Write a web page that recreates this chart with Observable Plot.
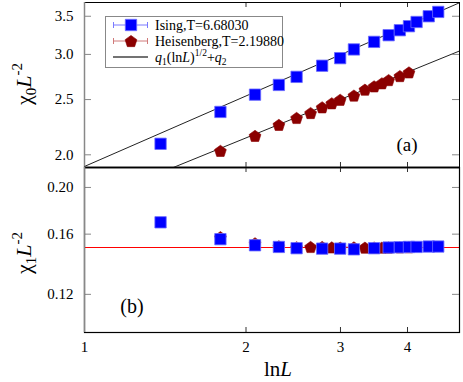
<!DOCTYPE html>
<html>
<head>
<meta charset="utf-8">
<script src="https://cdn.jsdelivr.net/npm/d3@7"></script>
<script src="https://cdn.jsdelivr.net/npm/@observablehq/plot@0.6"></script>
<style>
  body { margin: 0; background: #fff; }
  #wrap { position: relative; width: 463px; height: 382px; font-family: "Liberation Serif", "Times New Roman", Times, serif; }
  #wrap > * { position: absolute; left: 0; }
  #wrap text { font-family: "Liberation Serif", "Times New Roman", Times, serif; }
</style>
</head>
<body>
<div id="wrap"></div>
<script>
// ---- data ----
const lnL_ising  = [1.386, 1.792, 2.079, 2.303, 2.485, 2.773, 2.996, 3.178, 3.466, 3.689, 3.871, 4.025, 4.159, 4.382, 4.564];
const chi0_ising = [2.091, 2.378, 2.550, 2.652, 2.740, 2.866, 2.955, 3.061, 3.156, 3.242, 3.308, 3.362, 3.420, 3.500, 3.562];
const chi1_ising = [0.1693, 0.1562, 0.1517, 0.1505, 0.1496, 0.1493, 0.1493, 0.1488, 0.1496, 0.1501, 0.1503, 0.1505, 0.1505, 0.1508, 0.1508];

const lnL_heis  = [1.792, 2.079, 2.303, 2.485, 2.639, 2.773, 2.890, 2.996, 3.178, 3.332, 3.466, 3.584, 3.689, 3.871, 4.025];
const chi0_heis = [2.032, 2.159, 2.257, 2.321, 2.368, 2.423, 2.463, 2.498, 2.541, 2.602, 2.637, 2.670, 2.705, 2.749, 2.790];
const chi1_heis = [0.1577, 0.1532, 0.1510, 0.1503, 0.1505, 0.1505, 0.1502, 0.1500, 0.1502, 0.1500, 0.1501, 0.1500, 0.1501, 0.1502, 0.1503];

// fit lines q1 (lnL)^1/2 + q2 (endpoints)
const fitIsing_x = [1.0, 5.0];
const fitIsing_y = [1.908, 3.696];
const fitHeis_x  = [1.464, 5.0];
const fitHeis_y  = [1.900, 3.042];

const chi1_ref = [0.150];

const xTickLabels = [1, 2, 3, 4];
const xTicksInner = [2, 3, 4];
const yTicksTop = [2.0, 2.5, 3.0, 3.5];
const yTicksBottom = [0.12, 0.16, 0.20];

const labelIsing = "Ising,T=6.68030";
const labelHeis = "Heisenberg,T=2.19880";

// ---- helpers ----
const zip = (xs, ys) => xs.map((x, i) => ({x, y: ys[i]}));
const pentagon = {
  draw(context, size) {
    const R = Math.sqrt(size / 2.3776);
    for (let i = 0; i < 5; i++) {
      const a = -Math.PI / 2 + i * 2 * Math.PI / 5;
      const px = R * Math.cos(a), py = R * Math.sin(a) + R * 0.1;
      if (i === 0) context.moveTo(px, py); else context.lineTo(px, py);
    }
    context.closePath();
  }
};

const SERIF = '"Liberation Serif", "Times New Roman", Times, serif';
const W = 463, ML = 84, MR = 4;
const plotW = W - ML - MR;
const BLUE = "#0000ff", DRED = "#8b0000";
const font = {fontFamily: SERIF, fontSize: "15px", background: "transparent", color: "#000", overflow: "visible"};

// ---- top panel ----
const topH = 168, topMT = 2, topMB = 1;
const topPH = topH - topMT - topMB;
const chartTop = Plot.plot({
  width: W, height: topH, marginLeft: ML, marginRight: MR, marginTop: topMT, marginBottom: topMB,
  style: font,
  x: {type: "log", domain: [1, 5], axis: null},
  y: {type: "log", domain: [1.9, 3.7]},
  marks: [
    Plot.line(zip(fitIsing_x, fitIsing_y), {x: "x", y: "y", stroke: "#222", strokeWidth: 1, clip: true}),
    Plot.line(zip(fitHeis_x, fitHeis_y), {x: "x", y: "y", stroke: "#222", strokeWidth: 1, clip: true}),
    Plot.dot(zip(lnL_heis, chi0_heis), {x: "x", y: "y", symbol: pentagon, r: 5.4, fill: DRED, stroke: DRED, strokeWidth: 0.6}),
    Plot.dot(zip(lnL_ising, chi0_ising), {x: "x", y: "y", symbol: "square", r: 6.4, fill: BLUE, stroke: "#6a6aff", strokeWidth: 0.8}),
    Plot.tickY(yTicksTop, {y: d => d, insetRight: plotW - 7, stroke: "#888"}),
    Plot.tickY(yTicksTop, {y: d => d, insetLeft: plotW - 7, stroke: "#888"}),
    Plot.tickX(xTicksInner, {x: d => d, insetTop: topPH - 5, stroke: "#333"}),
    Plot.tickX(xTicksInner, {x: d => d, insetBottom: topPH - 5, stroke: "#333"}),
    Plot.axisY(yTicksTop, {anchor: "left", tickSize: 0, tickPadding: 11, tickFormat: d3.format(".1f"), label: null, fontSize: 15, fill: "#000"}),
    Plot.frame({stroke: "#000", strokeWidth: 1}),
    Plot.ruleX([1], {stroke: "#888", strokeWidth: 1.5}),
    Plot.ruleY([1.9], {stroke: "#333", strokeWidth: 2})
  ]
});
chartTop.style.top = "0px";

// ---- bottom panel ----
const botTop = 166, botH = 216, botMT = 1, botMB = 50;
const botPH = botH - botMT - botMB;
const chartBot = Plot.plot({
  width: W, height: botH, marginLeft: ML, marginRight: MR, marginTop: botMT, marginBottom: botMB,
  style: font,
  x: {type: "log", domain: [1, 5]},
  y: {type: "log", domain: [0.1, 0.22]},
  marks: [
    Plot.ruleY(chi1_ref, {stroke: "#ff0000", strokeWidth: 1, shapeRendering: "crispEdges"}),
    Plot.dot(zip(lnL_heis, chi1_heis), {x: "x", y: "y", symbol: pentagon, r: 5.4, fill: DRED, stroke: DRED, strokeWidth: 0.6}),
    Plot.dot(zip(lnL_ising, chi1_ising), {x: "x", y: "y", symbol: "square", r: 6.4, fill: BLUE, stroke: "#6a6aff", strokeWidth: 0.8}),
    Plot.tickY(yTicksBottom, {y: d => d, insetRight: plotW - 7, stroke: "#888"}),
    Plot.tickY(yTicksBottom, {y: d => d, insetLeft: plotW - 7, stroke: "#888"}),
    Plot.tickX(xTicksInner, {x: d => d, insetTop: botPH - 5, stroke: "#333"}),
    Plot.tickX(xTicksInner, {x: d => d, insetBottom: botPH - 5, stroke: "#333"}),
    Plot.axisY(yTicksBottom, {anchor: "left", tickSize: 0, tickPadding: 11, tickFormat: d3.format(".2f"), label: null, fontSize: 15, fill: "#000"}),
    Plot.axisX(xTickLabels, {anchor: "bottom", tickSize: 0, tickPadding: 9, tickFormat: d => String(d), label: null, fontSize: 15, fill: "#000"}),
    Plot.frame({stroke: "#000", strokeWidth: 1.2}),
    Plot.ruleX([1], {stroke: "#888", strokeWidth: 1.5})
  ]
});
chartBot.style.top = botTop + "px";

const wrap = document.getElementById("wrap");
wrap.appendChild(chartTop);
wrap.appendChild(chartBot);

// ---- overlay: legend, titles, panel tags ----
const ov = d3.create("svg").attr("width", W).attr("height", 382)
  .style("top", "0px").style("pointer-events", "none")
  .style("font-family", SERIF);

// legend
const lg = ov.append("g");
lg.append("rect").attr("x", 105.5).attr("y", 16.5).attr("width", 177).attr("height", 51)
  .attr("fill", "#fff").attr("stroke", "#888").attr("stroke-width", 1);
const rows = [25, 41, 57];
const lx1 = 113, lx2 = 148, lxm = 131, tx = 155;
function errLine(y, color) {
  lg.append("line").attr("x1", lx1).attr("x2", lx2).attr("y1", y).attr("y2", y).attr("stroke", color).attr("stroke-width", 1);
  lg.append("line").attr("x1", lx1 + 0.5).attr("x2", lx1 + 0.5).attr("y1", y - 3).attr("y2", y + 3).attr("stroke", color);
  lg.append("line").attr("x1", lx2 - 0.5).attr("x2", lx2 - 0.5).attr("y1", y - 3).attr("y2", y + 3).attr("stroke", color);
}
errLine(rows[0], "#7a7aff");
lg.append("path").attr("transform", `translate(${lxm},${rows[0]})`)
  .attr("d", d3.symbol(d3.symbolSquare, Math.PI * 6.4 * 6.4)())
  .attr("fill", BLUE).attr("stroke", "#6a6aff").attr("stroke-width", 0.8);
errLine(rows[1], "#d07a7a");
lg.append("path").attr("transform", `translate(${lxm},${rows[1]})`)
  .attr("d", d3.symbol(pentagon, Math.PI * 5.4 * 5.4)())
  .attr("fill", DRED).attr("stroke", DRED).attr("stroke-width", 0.6);
lg.append("line").attr("x1", lx1).attr("x2", lx2).attr("y1", rows[2]).attr("y2", rows[2]).attr("stroke", "#444").attr("stroke-width", 1.5);

const lt = (y) => lg.append("text").attr("x", tx).attr("y", y + 5).attr("font-size", 14).attr("fill", "#000");
lt(rows[0]).text(labelIsing);
lt(rows[1]).text(labelHeis);
const t3 = lt(rows[2]);
t3.append("tspan").attr("font-style", "italic").text("q");
t3.append("tspan").attr("font-size", 9.5).attr("dy", 3).text("1");
t3.append("tspan").attr("dy", -3).text("(ln");
t3.append("tspan").attr("font-style", "italic").text("L");
t3.append("tspan").text(")");
t3.append("tspan").attr("font-size", 9.5).attr("dy", -6).text("1/2");
t3.append("tspan").attr("dy", 6).text("+");
t3.append("tspan").attr("font-style", "italic").text("q");
t3.append("tspan").attr("font-size", 9.5).attr("dy", 3).text("2");

// y titles
function yTitle(cy, sub) {
  const t = ov.append("text").attr("transform", `translate(31,${cy}) rotate(-90)`)
    .attr("text-anchor", "middle").attr("font-size", 22).attr("fill", "#000");
  t.append("tspan").text("χ");
  t.append("tspan").attr("font-size", 15).attr("dy", 5).text(sub);
  t.append("tspan").attr("dy", -5).attr("font-style", "italic").text("L");
  t.append("tspan").attr("font-size", 15).attr("dy", -9).text("-2");
}
yTitle(84, "0");
yTitle(253, "1");

// x title
const xt = ov.append("text").attr("x", 278).attr("y", 376).attr("text-anchor", "middle").attr("font-size", 21).attr("fill", "#000");
xt.append("tspan").text("ln");
xt.append("tspan").attr("font-style", "italic").text("L");

// panel tags
ov.append("text").attr("x", 407).attr("y", 151).attr("text-anchor", "middle").attr("font-size", 19).attr("fill", "#000").text("(a)");
ov.append("text").attr("x", 132).attr("y", 313).attr("text-anchor", "middle").attr("font-size", 20).attr("fill", "#000").text("(b)");

wrap.appendChild(ov.node());
</script>
</body>
</html>
